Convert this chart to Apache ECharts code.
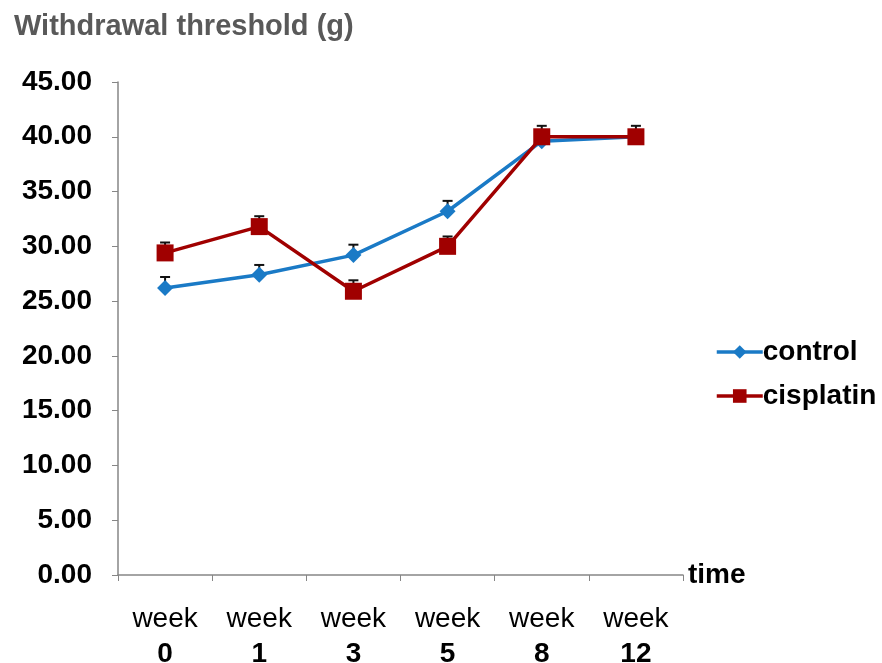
<!DOCTYPE html>
<html><head><meta charset="utf-8">
<script src="https://cdn.jsdelivr.net/npm/echarts@6/dist/echarts.min.js"></script>
<style>html,body{margin:0;padding:0;background:#fff}#c{width:882px;height:663px}</style>
</head><body><div id="c"></div>
<script>
const categories = ['0', '1', '3', '5', '8', '12'];
const controlValues = [26.2, 27.4, 29.2, 33.2, 39.6, 40.0];
const controlErr = [1.0, 0.9, 0.95, 0.95, 0, 0];
const cisplatinValues = [29.4, 31.8, 25.9, 30.0, 40.0, 40.0];
const cisplatinErr = [0.95, 0.95, 1.0, 0.9, 1.0, 1.0];
const yTicks = [0, 5, 10, 15, 20, 25, 30, 35, 40, 45];

const FONT = '"Liberation Sans", Arial, sans-serif';
const chart = echarts.init(document.getElementById('c'));

function errSeries(vals, errs, name) {
  return {
    type: 'custom', name: name + '_err', z: 1, silent: true,
    data: vals.map((v, i) => [i, v, v + errs[i]]),
    renderItem: function (params, api) {
      const p0 = api.coord([api.value(0), api.value(1)]);
      const p1 = api.coord([api.value(0), api.value(2)]);
      if (api.value(2) <= api.value(1)) return null;
      const style = { stroke: '#111', lineWidth: 2 };
      return { type: 'group', children: [
        { type: 'line', shape: { x1: p0[0], y1: p0[1], x2: p1[0], y2: p1[1] }, style: style },
        { type: 'line', shape: { x1: p1[0] - 5, y1: p1[1], x2: p1[0] + 5, y2: p1[1] }, style: style }
      ]};
    }
  };
}

chart.setOption({
  animation: false,
  title: { text: 'Withdrawal threshold (g)', left: 9, top: 7,
    textStyle: { fontFamily: FONT, fontSize: 29, fontWeight: 'bold', color: '#595959' } },
  legend: {
    orient: 'vertical', left: 710, top: 333, itemGap: 16, itemWidth: 46, itemHeight: 17,
    data: ['control', 'cisplatin'],
    lineStyle: { width: 3.5 },
    textStyle: { fontFamily: FONT, fontSize: 28, fontWeight: 'bold', color: '#000', padding: [0, 0, 0, -5] }
  },
  grid: { left: 118, right: 199, top: 82, bottom: 88, containLabel: false, outerBoundsMode: 'none' },
  xAxis: {
    type: 'category', data: categories, boundaryGap: true,
    name: 'time', nameLocation: 'end', nameGap: 5,
    nameTextStyle: { fontFamily: FONT, fontSize: 28, fontWeight: 'bold', color: '#000', verticalAlign: 'middle', padding: [0, 0, 16, 0] },
    axisLine: { lineStyle: { color: '#868686', width: 1.5 } },
    axisTick: { show: true, inside: false, length: 6, lineStyle: { color: '#868686' }, alignWithLabel: false },
    axisLabel: {
      margin: 27, interval: 0,
      formatter: v => '{w|week}\n{n|' + v + '}',
      rich: {
        w: { fontFamily: FONT, fontSize: 28, color: '#000', lineHeight: 35 },
        n: { fontFamily: FONT, fontSize: 28, fontWeight: 'bold', color: '#000', lineHeight: 35 }
      }
    },
    splitLine: { show: false }
  },
  yAxis: {
    type: 'value', min: yTicks[0], max: yTicks[yTicks.length - 1], interval: 5,
    axisLine: { show: true, lineStyle: { color: '#868686', width: 1.5 } },
    axisTick: { show: true, length: 6, lineStyle: { color: '#868686' } },
    axisLabel: { margin: 26, formatter: v => v.toFixed(2),
      fontFamily: FONT, fontSize: 28, fontWeight: 'bold', color: '#000' },
    splitLine: { show: false }
  },
  series: [
    errSeries(controlValues, controlErr, 'control'),
    errSeries(cisplatinValues, cisplatinErr, 'cisplatin'),
    { name: 'control', type: 'line', data: controlValues, z: 3,
      symbol: 'diamond', symbolSize: 16,
      lineStyle: { color: '#1a7ac6', width: 3.5 },
      itemStyle: { color: '#1a7ac6' } },
    { name: 'cisplatin', type: 'line', data: cisplatinValues, z: 4,
      symbol: 'rect', symbolSize: 17,
      lineStyle: { color: '#a00000', width: 3.5 },
      itemStyle: { color: '#a00000' } }
  ]
});
</script></body></html>
